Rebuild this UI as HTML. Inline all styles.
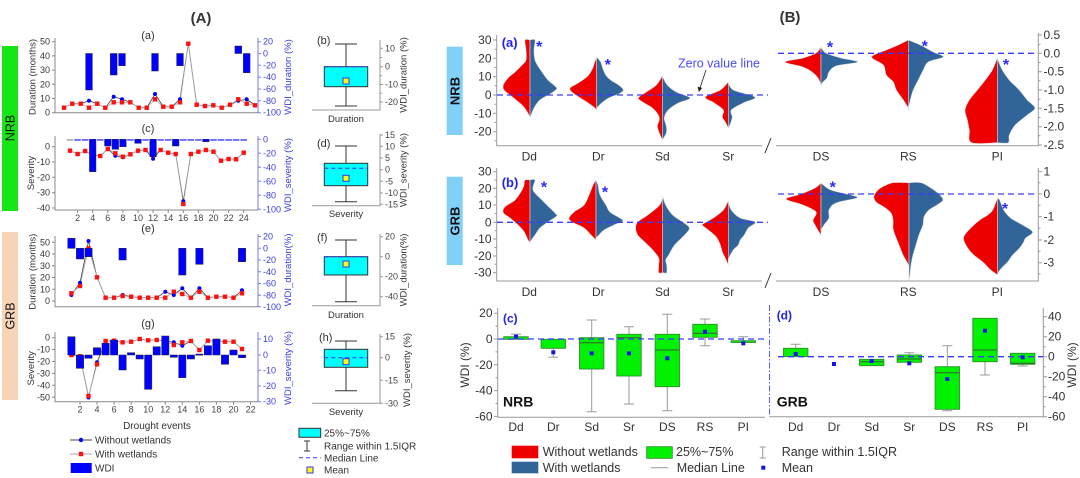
<!DOCTYPE html>
<html><head><meta charset="utf-8"><style>
html,body{margin:0;padding:0;background:#fff}
svg{display:block}
text{font-family:"Liberation Sans",sans-serif}
.lt{font-size:9px;fill:#333}
.rt{font-size:9px;fill:#3b3bdd}
.bt{font-size:9px;fill:#444}
.vt{font-size:12px;fill:#333}
.ax{stroke:#888;stroke-width:1;fill:none}
.axb{stroke:#7b7bea;stroke-width:1;fill:none}
.ax2{stroke:#999;stroke-width:1;fill:none}
.zl{stroke:#3b3bff;stroke-width:1.3;stroke-dasharray:6,4;fill:none}
.red{fill:#ee0000;stroke:#ddd;stroke-width:.6}
.blu{fill:#31659a;stroke:#ddd;stroke-width:.6}
.gb{fill:#00f200;stroke:#2f8f2f;stroke-width:.9}
.wh{stroke:#999;stroke-width:1;fill:none}
.md{stroke:#3a5a3a;stroke-width:1}
.mn{fill:#1414e6}
</style></head><body>
<svg width="1080" height="478" viewBox="0 0 1080 478" xmlns="http://www.w3.org/2000/svg">
<rect width="1080" height="478" fill="#fff"/>

<!-- ================= LEFT (A) ================= -->
<text x="201" y="23" text-anchor="middle" font-size="15" font-weight="bold" fill="#333">(A)</text>
<rect x="2" y="46" width="16" height="165" fill="#16e616"/>
<text transform="translate(14.5,128) rotate(-90)" text-anchor="middle" font-size="12.5" fill="#111">NRB</text>
<rect x="2" y="232" width="16" height="168" fill="#f8d4b6"/>
<text transform="translate(14.5,316) rotate(-90)" text-anchor="middle" font-size="12.5" fill="#111">GRB</text>

<!-- panel (a) -->
<text x="148" y="39" text-anchor="middle" font-size="11" fill="#333">(a)</text>
<path class="ax" d="M55,38V112.7H258"/>
<path class="axb" d="M258,38V112.7"/>
<g class="ax"><path d="M52,41.7H55M52,55.9H55M52,70.1H55M52,84.3H55M52,98.5H55M52,112.7H55"/></g>
<g class="axb"><path d="M258,41.7H261M258,53.5H261M258,65.3H261M258,77.2H261M258,89H261M258,100.8H261M258,112.7H261"/></g>
<text class="lt" x="50" y="44.7" text-anchor="end">50</text>
<text class="lt" x="50" y="58.9" text-anchor="end">40</text>
<text class="lt" x="50" y="73.1" text-anchor="end">30</text>
<text class="lt" x="50" y="87.3" text-anchor="end">20</text>
<text class="lt" x="50" y="101.5" text-anchor="end">10</text>
<text class="lt" x="50" y="115.7" text-anchor="end">0</text>
<text class="rt" x="263" y="44.7">20</text>
<text class="rt" x="263" y="56.5">0</text>
<text class="rt" x="263" y="68.3">-20</text>
<text class="rt" x="263" y="80.2">-40</text>
<text class="rt" x="263" y="92">-60</text>
<text class="rt" x="263" y="103.8">-80</text>
<text class="rt" x="263" y="115.7">-100</text>
<text transform="translate(35.5,77) rotate(-90)" text-anchor="middle" font-size="9.5" fill="#333">Duration (months)</text>
<text transform="translate(291,77) rotate(-90)" text-anchor="middle" font-size="9.5" fill="#3b3bdd">WDI_duration (%)</text>
<polyline fill="none" stroke="#444" stroke-width=".8" points="64,107.7 72.3,103.7 80.7,103.7 89,100.7 97.3,103.7 105.3,107.7 113.7,96.7 122,99.3 130.3,102.3 138.7,107.7 146.7,107.7 155,94 163.3,106.7 171.7,106.7 180,99.3 188.3,43.7 196.7,104.7 205,106 213.3,105.3 221.7,107.7 230,104.7 238.3,100.7 246.7,99.3 255,105.3"/>
<polyline fill="none" stroke="#aaa" stroke-width=".8" points="64,107.7 72.3,103.7 80.7,103.7 89,107.7 97.3,103.7 105.3,107.7 113.7,102.3 122,102.3 130.3,102.3 138.7,107.7 146.7,107.7 155,99.3 163.3,106.7 171.7,106.7 180,102.3 188.3,43.7 196.7,104.7 205,106 213.3,105.3 221.7,107.7 230,104.7 238.3,99.3 246.7,103.7 255,105.3"/>
<g fill="#0000ff"><circle cx="89" cy="100.7" r="2"/><circle cx="113.7" cy="96.7" r="2"/><circle cx="122" cy="99.3" r="2"/><circle cx="155" cy="94" r="2"/><circle cx="180" cy="99.3" r="2"/><circle cx="238.3" cy="100.7" r="2"/><circle cx="246.7" cy="99.3" r="2"/></g>
<g fill="#ff1010"><rect x="61.8" y="105.5" width="4.4" height="4.4"/><rect x="70.1" y="101.5" width="4.4" height="4.4"/><rect x="78.5" y="101.5" width="4.4" height="4.4"/><rect x="86.8" y="105.5" width="4.4" height="4.4"/><rect x="95.1" y="101.5" width="4.4" height="4.4"/><rect x="103.1" y="105.5" width="4.4" height="4.4"/><rect x="111.5" y="100.1" width="4.4" height="4.4"/><rect x="119.8" y="100.1" width="4.4" height="4.4"/><rect x="128.1" y="100.1" width="4.4" height="4.4"/><rect x="136.5" y="105.5" width="4.4" height="4.4"/><rect x="144.5" y="105.5" width="4.4" height="4.4"/><rect x="152.8" y="97.1" width="4.4" height="4.4"/><rect x="161.1" y="104.5" width="4.4" height="4.4"/><rect x="169.5" y="104.5" width="4.4" height="4.4"/><rect x="177.8" y="100.1" width="4.4" height="4.4"/><rect x="186.1" y="41.5" width="4.4" height="4.4"/><rect x="194.5" y="102.5" width="4.4" height="4.4"/><rect x="202.8" y="103.8" width="4.4" height="4.4"/><rect x="211.1" y="103.1" width="4.4" height="4.4"/><rect x="219.5" y="105.5" width="4.4" height="4.4"/><rect x="227.8" y="102.5" width="4.4" height="4.4"/><rect x="236.1" y="97.1" width="4.4" height="4.4"/><rect x="244.5" y="101.5" width="4.4" height="4.4"/><rect x="252.8" y="103.1" width="4.4" height="4.4"/></g>
<g fill="#0000ff" stroke="#223" stroke-width=".5"><rect x="85.65" y="53.5" width="6.7" height="36.5"/><rect x="110.35" y="53.5" width="6.7" height="21.5"/><rect x="118.65" y="53.5" width="6.7" height="12.2"/><rect x="151.65" y="53.5" width="6.7" height="17.5"/><rect x="176.65" y="53.5" width="6.7" height="12.2"/><rect x="234.95" y="46" width="6.7" height="7.5"/><rect x="243.35" y="53.5" width="6.7" height="19.2"/></g>

<!-- panel (c) -->
<text x="148" y="132" text-anchor="middle" font-size="11" fill="#333">(c)</text>
<path class="ax" d="M55,136V210H258"/>
<path class="axb" d="M258,136V210"/>
<g class="ax"><path d="M52,146.7H55M52,162H55M52,177.3H55M52,192.7H55M52,208H55"/></g>
<g class="axb"><path d="M258,139.3H261M258,153.3H261M258,167.3H261M258,181.3H261M258,195.3H261M258,209.3H261"/></g>
<text class="lt" x="50" y="149.7" text-anchor="end">0</text>
<text class="lt" x="50" y="165" text-anchor="end">-10</text>
<text class="lt" x="50" y="180.3" text-anchor="end">-20</text>
<text class="lt" x="50" y="195.7" text-anchor="end">-30</text>
<text class="lt" x="50" y="211" text-anchor="end">-40</text>
<text class="rt" x="263" y="142.3">0</text>
<text class="rt" x="263" y="156.3">-20</text>
<text class="rt" x="263" y="170.3">-40</text>
<text class="rt" x="263" y="184.3">-60</text>
<text class="rt" x="263" y="198.3">-80</text>
<text class="rt" x="263" y="212.3">-100</text>
<g class="ax"><path d="M77.6,210V213M92.7,210V213M107.8,210V213M122.9,210V213M138,210V213M153.1,210V213M168.2,210V213M183.3,210V213M198.4,210V213M213.5,210V213M228.6,210V213M243.7,210V213"/></g>
<g class="bt" text-anchor="middle"><text x="77.6" y="221">2</text><text x="92.7" y="221">4</text><text x="107.8" y="221">6</text><text x="122.9" y="221">8</text><text x="138" y="221">10</text><text x="153.1" y="221">12</text><text x="168.2" y="221">14</text><text x="183.3" y="221">16</text><text x="198.4" y="221">18</text><text x="213.5" y="221">20</text><text x="228.6" y="221">22</text><text x="243.7" y="221">24</text></g>
<text transform="translate(34,173) rotate(-90)" text-anchor="middle" font-size="9.5" fill="#333">Severity</text>
<text transform="translate(291,175) rotate(-90)" text-anchor="middle" font-size="9.5" fill="#3b3bdd">WDI_severity (%)</text>
<polyline fill="none" stroke="#444" stroke-width=".8" points="70,150.7 77.6,154 85.1,151 92.7,155 100.2,156 107.8,149 115.3,155.7 122.9,157.3 130.4,154.3 138,150.7 145.5,150 153.1,158.7 160.6,150 168.2,152.7 175.7,154 183.3,201.3 190.8,154 198.4,151.7 205.9,150 213.5,151.7 221,160.7 228.6,159 236.1,159.3 243.7,152.7"/>
<polyline fill="none" stroke="#aaa" stroke-width=".8" points="70,150.7 77.6,154 85.1,151 92.7,155 100.2,156 107.8,149 115.3,153.3 122.9,156.7 130.4,154.3 138,150.7 145.5,150 153.1,155 160.6,150 168.2,152.7 175.7,154 183.3,204 190.8,154 198.4,151.7 205.9,150 213.5,151.7 221,160.7 228.6,159 236.1,159.3 243.7,152.7"/>
<g fill="#0000ff"><circle cx="100.2" cy="156" r="2"/><circle cx="115.3" cy="155.7" r="2"/><circle cx="122.9" cy="157.3" r="2"/><circle cx="153.1" cy="158.7" r="2"/><circle cx="183.3" cy="201.3" r="2"/></g>
<g fill="#ff1010"><rect x="67.8" y="148.5" width="4.4" height="4.4"/><rect x="75.4" y="151.8" width="4.4" height="4.4"/><rect x="82.9" y="148.8" width="4.4" height="4.4"/><rect x="90.5" y="152.8" width="4.4" height="4.4"/><rect x="98" y="153.8" width="4.4" height="4.4"/><rect x="105.6" y="146.8" width="4.4" height="4.4"/><rect x="113.1" y="151.1" width="4.4" height="4.4"/><rect x="120.7" y="154.5" width="4.4" height="4.4"/><rect x="128.2" y="152.1" width="4.4" height="4.4"/><rect x="135.8" y="148.5" width="4.4" height="4.4"/><rect x="143.3" y="147.8" width="4.4" height="4.4"/><rect x="150.9" y="152.8" width="4.4" height="4.4"/><rect x="158.4" y="147.8" width="4.4" height="4.4"/><rect x="166" y="150.5" width="4.4" height="4.4"/><rect x="173.5" y="151.8" width="4.4" height="4.4"/><rect x="181.1" y="201.8" width="4.4" height="4.4"/><rect x="188.6" y="151.8" width="4.4" height="4.4"/><rect x="196.2" y="149.5" width="4.4" height="4.4"/><rect x="203.7" y="147.8" width="4.4" height="4.4"/><rect x="211.3" y="149.5" width="4.4" height="4.4"/><rect x="218.8" y="158.5" width="4.4" height="4.4"/><rect x="226.4" y="156.8" width="4.4" height="4.4"/><rect x="233.9" y="157.1" width="4.4" height="4.4"/><rect x="241.5" y="150.5" width="4.4" height="4.4"/></g>
<g fill="#2a2aff"><rect x="66.75" y="139.3" width="6.5" height="1.3" fill="#999"/><rect x="74.35" y="139.3" width="6.5" height="1.3"/><rect x="81.85" y="139.3" width="6.5" height="1.3"/><rect x="96.95" y="139.3" width="6.5" height="1.3"/><rect x="127.15" y="139.3" width="6.5" height="1.3"/><rect x="142.25" y="139.3" width="6.5" height="1.3"/><rect x="157.35" y="139.3" width="6.5" height="1.3"/><rect x="164.95" y="139.3" width="6.5" height="1.3"/><rect x="180.05" y="139.3" width="6.5" height="1.3"/><rect x="187.55" y="139.3" width="6.5" height="1.3"/><rect x="195.15" y="139.3" width="6.5" height="1.3"/><rect x="210.25" y="139.3" width="6.5" height="1.3"/><rect x="217.75" y="139.3" width="6.5" height="1.3"/><rect x="225.35" y="139.3" width="6.5" height="1.3"/><rect x="232.85" y="139.3" width="6.5" height="1.3"/><rect x="240.45" y="139.3" width="6.5" height="1.3"/></g>
<g fill="#0000ff" stroke="#223" stroke-width=".5"><rect x="89.45" y="139.3" width="6.5" height="32.4"/><rect x="104.55" y="139.3" width="6.5" height="6.7"/><rect x="112.05" y="139.3" width="6.5" height="10"/><rect x="119.65" y="139.3" width="6.5" height="7.4"/><rect x="134.75" y="139.3" width="6.5" height="4"/><rect x="149.85" y="139.3" width="6.5" height="17.4"/><rect x="172.45" y="139.3" width="6.5" height="6.7"/><rect x="202.65" y="139.3" width="6.5" height="2.4"/></g>

<!-- panel (e) -->
<text x="148" y="232" text-anchor="middle" font-size="11" fill="#333">(e)</text>
<path class="ax" d="M55,236V306.7H258"/>
<path class="axb" d="M258,234V306.7"/>
<g class="ax"><path d="M52,242.3H55M52,254H55M52,265.8H55M52,277.5H55M52,289.3H55M52,301H55"/></g>
<g class="axb"><path d="M258,236.5H261M258,248.3H261M258,260H261M258,271.8H261M258,283.5H261M258,295.3H261M258,306.7H261"/></g>
<text class="lt" x="50" y="245.3" text-anchor="end">50</text>
<text class="lt" x="50" y="257" text-anchor="end">40</text>
<text class="lt" x="50" y="268.8" text-anchor="end">30</text>
<text class="lt" x="50" y="280.5" text-anchor="end">20</text>
<text class="lt" x="50" y="292.3" text-anchor="end">10</text>
<text class="lt" x="50" y="304" text-anchor="end">0</text>
<text class="rt" x="263" y="239.5">20</text>
<text class="rt" x="263" y="251.3">0</text>
<text class="rt" x="263" y="263">-20</text>
<text class="rt" x="263" y="274.8">-40</text>
<text class="rt" x="263" y="286.5">-60</text>
<text class="rt" x="263" y="298.3">-80</text>
<text class="rt" x="263" y="310">-100</text>
<text transform="translate(35.5,271.7) rotate(-90)" text-anchor="middle" font-size="9.5" fill="#333">Duration (months)</text>
<text transform="translate(291,270) rotate(-90)" text-anchor="middle" font-size="9.5" fill="#3b3bdd">WDI_duration(%)</text>
<polyline fill="none" stroke="#444" stroke-width=".8" points="71.4,295 80,282.7 88.5,241 97,277.3 105.6,297.7 114.1,297.7 122.6,295 131.1,296.7 139.7,297.7 148.2,297.7 156.7,297.7 165.3,291.7 173.8,295 182.3,288.3 190.9,297.7 199.4,288.3 207.9,297.7 216.4,296.7 225,296.7 233.5,297.7 242,290.3"/>
<polyline fill="none" stroke="#aaa" stroke-width=".8" points="71.4,293.3 80,286 88.5,248.3 97,277.3 105.6,297.7 114.1,297.7 122.6,296 131.1,296.7 139.7,297.7 148.2,297.7 156.7,297.7 165.3,297.7 173.8,291.7 182.3,294 190.9,297.7 199.4,291.7 207.9,297.7 216.4,296.7 225,296.7 233.5,297.7 242,293.3"/>
<g fill="#0000ff"><circle cx="71.4" cy="295" r="2"/><circle cx="80" cy="282.7" r="2"/><circle cx="88.5" cy="241" r="2"/><circle cx="122.6" cy="295" r="2"/><circle cx="165.3" cy="291.7" r="2"/><circle cx="173.8" cy="295" r="2"/><circle cx="182.3" cy="288.3" r="2"/><circle cx="199.4" cy="288.3" r="2"/><circle cx="242" cy="290.3" r="2"/></g>
<g fill="#ff1010"><rect x="69.2" y="291.1" width="4.4" height="4.4"/><rect x="77.8" y="283.8" width="4.4" height="4.4"/><rect x="86.3" y="246.1" width="4.4" height="4.4"/><rect x="94.8" y="275.1" width="4.4" height="4.4"/><rect x="103.4" y="295.5" width="4.4" height="4.4"/><rect x="111.9" y="295.5" width="4.4" height="4.4"/><rect x="120.4" y="293.8" width="4.4" height="4.4"/><rect x="128.9" y="294.5" width="4.4" height="4.4"/><rect x="137.5" y="295.5" width="4.4" height="4.4"/><rect x="146" y="295.5" width="4.4" height="4.4"/><rect x="154.5" y="295.5" width="4.4" height="4.4"/><rect x="163.1" y="295.5" width="4.4" height="4.4"/><rect x="171.6" y="289.5" width="4.4" height="4.4"/><rect x="180.1" y="291.8" width="4.4" height="4.4"/><rect x="188.7" y="295.5" width="4.4" height="4.4"/><rect x="197.2" y="289.5" width="4.4" height="4.4"/><rect x="205.7" y="295.5" width="4.4" height="4.4"/><rect x="214.2" y="294.5" width="4.4" height="4.4"/><rect x="222.8" y="294.5" width="4.4" height="4.4"/><rect x="231.3" y="295.5" width="4.4" height="4.4"/><rect x="239.8" y="291.1" width="4.4" height="4.4"/></g>
<g fill="#0000ff" stroke="#223" stroke-width=".5"><rect x="67.75" y="238.3" width="7.3" height="10"/><rect x="76.35" y="248.3" width="7.3" height="10.7"/><rect x="84.85" y="248.3" width="7.3" height="8.4"/><rect x="118.95" y="248.3" width="7.3" height="11.7"/><rect x="178.65" y="248.3" width="7.3" height="26.7"/><rect x="195.75" y="248.3" width="7.3" height="16"/><rect x="238.35" y="248.3" width="7.3" height="13.4"/></g>

<!-- panel (g) -->
<text x="148" y="327" text-anchor="middle" font-size="11" fill="#333">(g)</text>
<path class="ax" d="M55,332V401.7H258"/>
<path class="axb" d="M258,332V401.7"/>
<g class="ax"><path d="M52,337.7H55M52,349.6H55M52,361.5H55M52,373.4H55M52,385.3H55M52,397.3H55"/></g>
<g class="axb"><path d="M258,339H261M258,355H261M258,370.3H261M258,386H261M258,401.7H261"/></g>
<text class="lt" x="50" y="340.7" text-anchor="end">0</text>
<text class="lt" x="50" y="352.6" text-anchor="end">-10</text>
<text class="lt" x="50" y="364.5" text-anchor="end">-20</text>
<text class="lt" x="50" y="376.4" text-anchor="end">-30</text>
<text class="lt" x="50" y="388.3" text-anchor="end">-40</text>
<text class="lt" x="50" y="400.3" text-anchor="end">-50</text>
<text class="rt" x="263" y="342">10</text>
<text class="rt" x="263" y="358">0</text>
<text class="rt" x="263" y="373.3">-10</text>
<text class="rt" x="263" y="389">-20</text>
<text class="rt" x="263" y="404.7">-30</text>
<g class="ax"><path d="M80,401.7V404.7M97,401.7V404.7M114.1,401.7V404.7M131.1,401.7V404.7M148.2,401.7V404.7M165.3,401.7V404.7M182.3,401.7V404.7M199.4,401.7V404.7M216.4,401.7V404.7M233.5,401.7V404.7M250.6,401.7V404.7"/></g>
<g class="bt" text-anchor="middle"><text x="80" y="412.5">2</text><text x="97" y="412.5">4</text><text x="114.1" y="412.5">6</text><text x="131.1" y="412.5">8</text><text x="148.2" y="412.5">10</text><text x="165.3" y="412.5">12</text><text x="182.3" y="412.5">14</text><text x="199.4" y="412.5">16</text><text x="216.4" y="412.5">18</text><text x="233.5" y="412.5">20</text><text x="250.6" y="412.5">22</text></g>
<text transform="translate(34,368.3) rotate(-90)" text-anchor="middle" font-size="9.5" fill="#333">Severity</text>
<text transform="translate(291,368) rotate(-90)" text-anchor="middle" font-size="9.5" fill="#3b3bdd">WDI_severity (%)</text>
<polyline fill="none" stroke="#444" stroke-width=".8" points="71.4,355 80,356.3 88.5,397 97,362.3 105.6,341 114.1,340.7 122.6,342.3 131.1,341.7 139.7,339 148.2,340.3 156.7,340 165.3,341 173.8,342.3 182.3,345.7 190.9,341 199.4,350 207.9,340.7 216.4,341 225,341.7 233.5,341.7 242,349"/>
<polyline fill="none" stroke="#aaa" stroke-width=".8" points="71.4,355 80,356.3 88.5,396 97,364.3 105.6,341 114.1,340.7 122.6,342.3 131.1,341.7 139.7,339 148.2,340.3 156.7,340 165.3,341 173.8,345 182.3,342.3 190.9,341 199.4,350 207.9,340.7 216.4,341 225,341.7 233.5,341.7 242,349"/>
<g fill="#0000ff"><circle cx="88.5" cy="397.5" r="2"/><circle cx="97" cy="362.3" r="2"/><circle cx="173.8" cy="342.3" r="2"/><circle cx="182.3" cy="345.7" r="2"/></g>
<g fill="#ff1010"><rect x="69.2" y="352.8" width="4.4" height="4.4"/><rect x="77.8" y="354.1" width="4.4" height="4.4"/><rect x="86.3" y="393.8" width="4.4" height="4.4"/><rect x="94.8" y="362.1" width="4.4" height="4.4"/><rect x="103.4" y="338.8" width="4.4" height="4.4"/><rect x="111.9" y="338.5" width="4.4" height="4.4"/><rect x="120.4" y="340.1" width="4.4" height="4.4"/><rect x="128.9" y="339.5" width="4.4" height="4.4"/><rect x="137.5" y="336.8" width="4.4" height="4.4"/><rect x="146" y="338.1" width="4.4" height="4.4"/><rect x="154.5" y="337.8" width="4.4" height="4.4"/><rect x="163.1" y="338.8" width="4.4" height="4.4"/><rect x="171.6" y="342.8" width="4.4" height="4.4"/><rect x="180.1" y="340.1" width="4.4" height="4.4"/><rect x="188.7" y="338.8" width="4.4" height="4.4"/><rect x="197.2" y="347.8" width="4.4" height="4.4"/><rect x="205.7" y="338.5" width="4.4" height="4.4"/><rect x="214.2" y="338.8" width="4.4" height="4.4"/><rect x="222.8" y="339.5" width="4.4" height="4.4"/><rect x="231.3" y="339.5" width="4.4" height="4.4"/><rect x="239.8" y="346.8" width="4.4" height="4.4"/></g>
<g fill="#0000ff" stroke="#223" stroke-width=".5"><rect x="67.75" y="336.7" width="7.3" height="18.3"/><rect x="76.35" y="355" width="7.3" height="13.3"/><rect x="84.85" y="355" width="7.3" height="3.3"/><rect x="93.35" y="347.7" width="7.3" height="7.3"/><rect x="101.95" y="343.3" width="7.3" height="11.7"/><rect x="110.45" y="340" width="7.3" height="15"/><rect x="118.95" y="355" width="7.3" height="15"/><rect x="127.45" y="352.7" width="7.3" height="2.3"/><rect x="136.05" y="355" width="7.3" height="4"/><rect x="144.55" y="355" width="7.3" height="34.3"/><rect x="153.05" y="346.7" width="7.3" height="8.3"/><rect x="161.65" y="336" width="7.3" height="19"/><rect x="170.15" y="355" width="7.3" height="2.3"/><rect x="178.65" y="355" width="7.3" height="22.7"/><rect x="187.25" y="355" width="7.3" height="4"/><rect x="195.75" y="354" width="7.3" height="1.2"/><rect x="204.25" y="345.7" width="7.3" height="9.3"/><rect x="212.75" y="339" width="7.3" height="16"/><rect x="221.35" y="355" width="7.3" height="9.3"/><rect x="229.85" y="350" width="7.3" height="5"/><rect x="238.35" y="355" width="7.3" height="2.7"/></g>

<!-- left legend -->
<text x="157" y="429" text-anchor="middle" font-size="10" fill="#333">Drought events</text>
<line x1="70" y1="440" x2="92" y2="440" stroke="#444" stroke-width=".9"/>
<circle cx="81" cy="440" r="2.2" fill="#0000ff"/>
<text x="95" y="443.5" font-size="10" fill="#333">Without wetlands</text>
<line x1="70" y1="454" x2="92" y2="454" stroke="#aaa" stroke-width=".9"/>
<rect x="78.8" y="451.8" width="4.4" height="4.4" fill="#ff1010"/>
<text x="95" y="457.5" font-size="10" fill="#333">With wetlands</text>
<rect x="70.7" y="463" width="21" height="10" fill="#0000ff"/>
<text x="95" y="471.5" font-size="10" fill="#333">WDI</text>

<!-- ================= box plots (b)(d)(f)(h) ================= -->
<text x="317" y="44" font-size="11" fill="#333">(b)</text>
<path class="ax2" d="M312,110H380V40"/>
<g class="ax2"><path d="M380,48.3H383M380,66.7H383M380,84.5H383M380,102H383M380,57.5H382M380,75.6H382M380,93.2H382"/></g>
<text class="bt" x="385" y="51.3">10</text><text class="bt" x="385" y="69.7">0</text><text class="bt" x="385" y="87.5">-10</text><text class="bt" x="385" y="105">-20</text>
<text transform="translate(406.5,75) rotate(-90)" text-anchor="middle" font-size="9.5" fill="#333">WDI_duration (%)</text>
<path d="M346,44V66.7M346,86.7V106M335,44H357M335,106H357" stroke="#333" stroke-width="1" fill="none"/>
<rect x="324.3" y="66.7" width="43.4" height="20" fill="#00ffff" stroke="#333" stroke-width="1"/>
<line x1="324.3" y1="66.7" x2="367.7" y2="66.7" stroke="#33f" stroke-dasharray="4,3"/>
<rect x="343" y="78" width="6" height="6" fill="#ffff00" stroke="#3333ff" stroke-width="1"/>
<text x="346" y="122" text-anchor="middle" font-size="9.5" fill="#333">Duration</text>

<text x="317" y="147" font-size="11" fill="#333">(d)</text>
<path class="ax2" d="M312,205.7H380V134"/>
<g class="ax2"><path d="M380,135H383M380,146.3H383M380,158H383M380,169.7H383M380,181.3H383M380,193H383M380,204.3H383"/></g>
<text class="bt" x="385" y="138">15</text><text class="bt" x="385" y="149.3">10</text><text class="bt" x="385" y="161">5</text><text class="bt" x="385" y="172.7">0</text><text class="bt" x="385" y="184.3">-5</text><text class="bt" x="385" y="196">-10</text><text class="bt" x="385" y="207.3">-15</text>
<text transform="translate(406.5,170) rotate(-90)" text-anchor="middle" font-size="9.5" fill="#333">WDI_severity (%)</text>
<path d="M346,146V163.3M346,185.7V201.7M335,146H357M335,201.7H357" stroke="#333" stroke-width="1" fill="none"/>
<rect x="324.3" y="163.3" width="43.4" height="22.4" fill="#00ffff" stroke="#333" stroke-width="1"/>
<line x1="324.3" y1="168.3" x2="367.7" y2="168.3" stroke="#33f" stroke-dasharray="4,3"/>
<rect x="343" y="175.3" width="6" height="6" fill="#ffff00" stroke="#3333ff" stroke-width="1"/>
<text x="346" y="217" text-anchor="middle" font-size="9.5" fill="#333">Severity</text>

<text x="317" y="241" font-size="11" fill="#333">(f)</text>
<path class="ax2" d="M312,305.7H380V234"/>
<g class="ax2"><path d="M380,236.7H383M380,256.7H383M380,276.7H383M380,296.7H383"/></g>
<text class="bt" x="385" y="239.7">20</text><text class="bt" x="385" y="259.7">0</text><text class="bt" x="385" y="279.7">-20</text><text class="bt" x="385" y="299.7">-40</text>
<text transform="translate(406.5,270) rotate(-90)" text-anchor="middle" font-size="9.5" fill="#333">WDI_duration(%)</text>
<path d="M346,240V256.7M346,275V301.7M335,240H357M335,301.7H357" stroke="#333" stroke-width="1" fill="none"/>
<rect x="324.3" y="256.7" width="43.4" height="18.3" fill="#00ffff" stroke="#333" stroke-width="1"/>
<line x1="324.3" y1="256.7" x2="367.7" y2="256.7" stroke="#33f" stroke-dasharray="4,3"/>
<rect x="343" y="261" width="6" height="6" fill="#ffff00" stroke="#3333ff" stroke-width="1"/>
<text x="346" y="318" text-anchor="middle" font-size="9.5" fill="#333">Duration</text>

<text x="319" y="341" font-size="11" fill="#333">(h)</text>
<path class="ax2" d="M312,403.3H380V334"/>
<g class="ax2"><path d="M380,336.7H383M380,357.7H383M380,380.3H383M380,403.3H383"/></g>
<text class="bt" x="385" y="339.7">15</text><text class="bt" x="385" y="360.7">0</text><text class="bt" x="385" y="383.3">-15</text><text class="bt" x="385" y="406.3">-30</text>
<text transform="translate(410,370) rotate(-90)" text-anchor="middle" font-size="9.5" fill="#333">WDI_severity (%)</text>
<path d="M346,341V349.3M346,367.3V390.7M335,341H357M335,390.7H357" stroke="#333" stroke-width="1" fill="none"/>
<rect x="324.3" y="349.3" width="43.4" height="18" fill="#00ffff" stroke="#333" stroke-width="1"/>
<line x1="324.3" y1="357.7" x2="367.7" y2="357.7" stroke="#33f" stroke-dasharray="4,3"/>
<rect x="343" y="358.7" width="6" height="6" fill="#ffff00" stroke="#3333ff" stroke-width="1"/>
<text x="346" y="415" text-anchor="middle" font-size="9.5" fill="#333">Severity</text>

<rect x="299" y="428.3" width="21.7" height="9" fill="#00ffff" stroke="#333" stroke-width="1"/>
<text x="324" y="436.5" font-size="10" fill="#333">25%~75%</text>
<path d="M307,441V451M304,441H310M304,451H310" stroke="#333" stroke-width="1" fill="none"/>
<text x="324" y="449.5" font-size="10" fill="#333">Range within 1.5IQR</text>
<line x1="299" y1="457.7" x2="320.7" y2="457.7" stroke="#33f" stroke-dasharray="4,3"/>
<text x="324" y="461.5" font-size="10" fill="#333">Median Line</text>
<rect x="307" y="467" width="6" height="6" fill="#ffff00" stroke="#3333ff" stroke-width="1"/>
<text x="324" y="473.5" font-size="10" fill="#333">Mean</text>

<!-- ================= RIGHT (B) ================= -->
<text x="790" y="22" text-anchor="middle" font-size="15" font-weight="bold" fill="#333">(B)</text>
<rect x="446.7" y="46.7" width="16" height="88.3" fill="#80d0f8"/>
<text transform="translate(459.5,91) rotate(-90)" text-anchor="middle" font-size="13" font-weight="bold" fill="#111">NRB</text>
<rect x="446.7" y="176.7" width="16" height="88.3" fill="#80d0f8"/>
<text transform="translate(459.5,221) rotate(-90)" text-anchor="middle" font-size="13" font-weight="bold" fill="#111">GRB</text>

<!-- violin (a) axes -->
<path class="ax2" d="M496.7,35V145.7H762"/>
<path class="ax2" d="M776,145.7H1038.3V33"/>
<line x1="765" y1="153" x2="771" y2="138" stroke="#333" stroke-width="1"/>
<g class="ax2"><path d="M493,40H496.7M493,58.3H496.7M493,76.7H496.7M493,95H496.7M493,113.3H496.7M493,131.7H496.7M494.5,49.2H496.7M494.5,67.5H496.7M494.5,85.8H496.7M494.5,104.2H496.7M494.5,122.5H496.7M494.5,140.8H496.7"/></g>
<g class="vt" text-anchor="end"><text x="491.5" y="44">30</text><text x="491.5" y="62.3">20</text><text x="491.5" y="80.7">10</text><text x="491.5" y="99">0</text><text x="491.5" y="117.3">-10</text><text x="491.5" y="135.7">-20</text></g>
<g class="ax2"><path d="M1038.3,35H1042M1038.3,53.3H1042M1038.3,71.7H1042M1038.3,90H1042M1038.3,108.3H1042M1038.3,126.7H1042M1038.3,145H1042M1038.3,44.2H1040.5M1038.3,62.5H1040.5M1038.3,80.8H1040.5M1038.3,99.2H1040.5M1038.3,117.5H1040.5M1038.3,135.8H1040.5"/></g>
<g class="vt"><text x="1043.5" y="39">0.5</text><text x="1043.5" y="57.3">0.0</text><text x="1043.5" y="75.7">-0.5</text><text x="1043.5" y="94">-1.0</text><text x="1043.5" y="112.3">-1.5</text><text x="1043.5" y="130.7">-2.0</text><text x="1043.5" y="149">-2.5</text></g>
<g class="vt" text-anchor="middle"><text x="529.3" y="160.5">Dd</text><text x="598.3" y="160.5">Dr</text><text x="662.3" y="160.5">Sd</text><text x="728.3" y="160.5">Sr</text><text x="821" y="160.5">DS</text><text x="908.3" y="160.5">RS</text><text x="997.3" y="160.5">PI</text></g>

<!-- NRB violins -->
<path class="red" d="M530,40 L525,40 L526,50 L526,60 L522,65 L515,72 L508,78 L503.3,85 L504,90 L510,95 L516,100 L522,105 L526,110 L530,117 Z"/>
<path class="blu" d="M530,40 L535,40 L534,50 L535,60 L538,66 L542,72 L548,80 L555,86 L556.7,89 L550,94 L540,100 L534,108 L530,118 Z"/>
<path class="red" d="M596.7,57 L594.7,62 L592.7,68 L588.7,75 L582.7,80 L574.7,85 L570,88 L571.7,92 L578.7,97 L586.7,102 L593.7,107 L596.7,110 Z"/>
<path class="blu" d="M596.7,57 L600.7,62 L602.7,68 L605.7,75 L610.7,80 L618.7,85 L623.4,90 L618.7,94 L608.7,98 L601.7,103 L596.7,108 Z"/>
<path class="red" d="M662.3,76 L656.3,85 L646.3,92 L638.3,98 L644.3,103 L652.3,108 L658.3,115 L659.3,120 L657.3,126 L659.3,133 L662.3,140 Z"/>
<path class="blu" d="M662.3,76 L667.3,85 L676.3,92 L690,98 L678.3,103 L668.3,110 L664.3,118 L666.3,126 L666.3,133 L662.3,140 Z"/>
<path class="red" d="M728.3,82 L720.3,90 L705.3,97 L714.3,103 L723.3,110 L722.3,117 L725.3,122 L728.3,128 Z"/>
<path class="blu" d="M728.3,82 L733.3,90 L755,97 L743.3,103 L731.3,110 L732.3,117 L730.3,124 L728.3,128 Z"/>
<path class="red" d="M821,47 L816,53 L803,58 L785,62 L803,67 L812,72 L818,78 L821,85 Z"/>
<path class="blu" d="M821,47 L826,53 L841,58 L857.7,62 L836,66 L829,72 L827,78 L823,82 L821,85 Z"/>
<path class="red" d="M908.3,40 L898.3,45 L886.3,50 L871.6,57 L883.3,65 L886.3,75 L893.3,82 L896.3,90 L903.3,100 L908.3,108 Z"/>
<path class="blu" d="M908.3,40 L920.3,45 L933.3,52 L943.3,57 L928.3,62 L923.3,70 L918.3,80 L913.3,90 L910.3,100 L908.3,110 Z"/>
<path class="red" d="M997.3,58 L992.3,70 L985.3,80 L977.3,90 L969.3,100 L965,110 L967.3,120 L969.3,130 L971.6,142.7 L997.3,142.7 Z"/>
<path class="blu" d="M997.3,58 L1002.3,70 L1009.3,80 L1019.3,90 L1027.3,100 L1035,108 L1027.3,115 L1015.3,125 L1009.3,135 L1008.3,142.7 L997.3,142.7 Z"/>
<line class="zl" x1="497" y1="95" x2="768" y2="95"/>
<line class="zl" x1="778" y1="53.3" x2="1038" y2="53.3"/>
<text x="501.7" y="47" font-size="13" font-weight="bold" fill="#2222ee">(a)</text>
<g font-size="16" font-weight="bold" fill="#2a2aff" text-anchor="middle"><text x="539.3" y="52">*</text><text x="607.7" y="70">*</text><text x="830" y="52.5">*</text><text x="924.7" y="51.5">*</text><text x="1006" y="70">*</text></g>
<text x="678" y="67.5" font-size="12.5" fill="#4a4aff">Zero value line</text>
<line x1="706" y1="70" x2="700" y2="88" stroke="#222" stroke-width=".8"/>
<path d="M698.8,92 L697.6,86.6 L702.2,88 Z" fill="#222"/>

<!-- violin (b) axes -->
<path class="ax2" d="M496.7,168V281H762"/>
<path class="ax2" d="M776,281H1038.3V168"/>
<line x1="765" y1="288" x2="771" y2="273" stroke="#333" stroke-width="1"/>
<g class="ax2"><path d="M493,171.7H496.7M493,188.3H496.7M493,205H496.7M493,222.3H496.7M493,239H496.7M493,256H496.7M493,272.7H496.7M494.5,180H496.7M494.5,196.7H496.7M494.5,213.7H496.7M494.5,230.7H496.7M494.5,247.5H496.7M494.5,264.3H496.7"/></g>
<g class="vt" text-anchor="end"><text x="491.5" y="175.7">30</text><text x="491.5" y="192.3">20</text><text x="491.5" y="209">10</text><text x="491.5" y="226.3">0</text><text x="491.5" y="243">-10</text><text x="491.5" y="260">-20</text><text x="491.5" y="276.7">-30</text></g>
<g class="ax2"><path d="M1038.3,171.7H1042M1038.3,194H1042M1038.3,216.7H1042M1038.3,240H1042M1038.3,262.7H1042M1038.3,182.8H1040.5M1038.3,205.3H1040.5M1038.3,228.3H1040.5M1038.3,251.3H1040.5M1038.3,274H1040.5"/></g>
<g class="vt"><text x="1043.5" y="175.7">1</text><text x="1043.5" y="198">0</text><text x="1043.5" y="220.7">-1</text><text x="1043.5" y="244">-2</text><text x="1043.5" y="266.7">-3</text></g>
<g class="vt" text-anchor="middle"><text x="529.3" y="296">Dd</text><text x="598.3" y="296">Dr</text><text x="662.3" y="296">Sd</text><text x="728.3" y="296">Sr</text><text x="821" y="296">DS</text><text x="908.3" y="296">RS</text><text x="997.3" y="296">PI</text></g>

<!-- GRB violins -->
<path class="red" d="M530,180 L525,180 L524,185 L522,190 L515,200 L505,206.7 L503.3,212.7 L510,218 L518,225 L524,231.7 L528,240 L530,242.7 Z"/>
<path class="blu" d="M530,180 L535,180 L533,190 L542,200 L548,206 L555,213 L556.7,216 L548,222 L540,228 L535,235 L530,242 Z"/>
<path class="red" d="M596,180 L593,185 L589,195 L584,205 L574,212 L569,218 L572,222 L584,228 L591,235 L596,240 Z"/>
<path class="blu" d="M596,180 L598,185 L600,195 L606,205 L610,212 L620,218 L622.7,221 L614,225 L604,230 L599,235 L596,238 Z"/>
<path class="red" d="M662.7,196 L659.7,205 L647.7,215 L637.7,222 L635.7,228 L637.7,235 L644.7,242 L652.7,250 L658.7,258 L658.7,265 L658.7,272.7 L662.7,272.7 Z"/>
<path class="blu" d="M662.7,196 L665.7,205 L672.7,215 L682.7,222 L689.4,228 L684.7,235 L674.7,245 L668.7,255 L665.7,260 L666.7,265 L666.7,272.7 L662.7,272.7 Z"/>
<path class="red" d="M728.3,200.7 L723.3,210 L713.3,218 L706.3,222 L702.3,225 L708.3,230 L716.3,237 L720.3,245 L722.3,252 L725.3,258 L728.3,265 Z"/>
<path class="blu" d="M728.3,200.7 L731.3,210 L740.3,218 L755.3,222 L748.3,228 L744.3,235 L740.3,240 L738.3,245 L733.3,250 L730.3,255 L728.3,260 Z"/>
<path class="red" d="M821,183 L815,188 L801,194 L786,199 L803,205 L816,212 L813,220 L815,225 L819,232 L821,235 Z"/>
<path class="blu" d="M821,183 L831,190 L851,195 L856.7,198 L836,203 L829,210 L829,218 L824,225 L821,230 Z"/>
<path class="red" d="M909,182.7 L893,182.7 L884,186 L878,190 L874,196 L876,202 L884,207 L891,213 L893,220 L893,228 L895,235 L899,245 L903,255 L907,262 L909,267 Z"/>
<path class="blu" d="M909,182.7 L921,182.7 L931,188 L939,194 L943,200 L937,205 L929,210 L924,217 L923,225 L919,235 L916,245 L913,255 L911,265 L910,275 L909,280 Z"/>
<path class="red" d="M997.7,198.3 L996.7,200 L992.7,210 L987.7,215 L979.7,220 L970.7,228 L964.7,235 L963.7,240 L967.7,248 L973.7,255 L982.7,262 L990.7,270 L997.7,275 Z"/>
<path class="blu" d="M997.7,198.3 L999.7,200 L1003.7,210 L1010.7,218 L1022.7,225 L1032.7,232 L1025.7,238 L1023.7,242 L1019.7,248 L1012.7,255 L1007.7,262 L1001.7,268 L997.7,273 Z"/>
<line class="zl" x1="497" y1="222.3" x2="768" y2="222.3"/>
<line class="zl" x1="778" y1="194" x2="1038" y2="194"/>
<text x="501.7" y="187" font-size="13" font-weight="bold" fill="#2222ee">(b)</text>
<g font-size="16" font-weight="bold" fill="#2a2aff" text-anchor="middle"><text x="544" y="192.5">*</text><text x="605" y="197.5">*</text><text x="832.7" y="192.5">*</text><text x="1005" y="214">*</text></g>

<!-- bottom (c) -->
<path class="ax2" d="M497.7,308V417.3H765"/>
<g class="ax2"><path d="M494,313.2H497.7M494,339H497.7M494,364.8H497.7M494,390.6H497.7M494,416.4H497.7M495.5,326.1H497.7M495.5,351.9H497.7M495.5,377.7H497.7M495.5,403.5H497.7"/></g>
<g class="vt" text-anchor="end"><text x="492.5" y="317.2">20</text><text x="492.5" y="343">0</text><text x="492.5" y="368.8">-20</text><text x="492.5" y="394.6">-40</text><text x="492.5" y="420.4">-60</text></g>
<text transform="translate(469,365) rotate(-90)" text-anchor="middle" font-size="12" fill="#333">WDI (%)</text>
<g class="vt" text-anchor="middle"><text x="516" y="431">Dd</text><text x="553.3" y="431">Dr</text><text x="591.7" y="431">Sd</text><text x="629" y="431">Sr</text><text x="667.3" y="431">DS</text><text x="705" y="431">RS</text><text x="743.3" y="431">PI</text></g>
<line x1="769.5" y1="305" x2="769.5" y2="417" stroke="#5a5aff" stroke-width="1" stroke-dasharray="6,2,1.5,2"/>
<path class="wh" d="M516,334.3V336.7M511,334.3H521M553.3,348.3V357.3M548.3,357.3H558.3M591.7,320V337.7M591.7,369V411.7M586.7,320H596.7M586.7,411.7H596.7M629,326.7V334.3M629,376V404M624,326.7H634M624,404H634M667.3,314.3V334.3M667.3,386.7V410.7M662.3,314.3H672.3M662.3,410.7H672.3M705,319V324.3M705,337.3V345.7M700,319H710M700,345.7H710M743.3,336.7V340.7M738.3,336.7H748.3M738.3,342.3H748.3"/>
<rect class="gb" x="503.8" y="336.7" width="24.4" height="2.6"/>
<rect class="gb" x="541.1" y="339.3" width="24.4" height="9"/>
<rect class="gb" x="579.5" y="337.7" width="24.4" height="31.3"/>
<rect class="gb" x="616.8" y="334.3" width="24.4" height="41.7"/>
<rect class="gb" x="655.1" y="334.3" width="24.4" height="52.4"/>
<rect class="gb" x="692.8" y="324.3" width="24.4" height="13"/>
<rect class="gb" x="731.1" y="340.7" width="24.4" height="1.8" fill="#1a9a1a"/>
<path class="md" d="M579.5,342.7H603.9M616.8,337.7H641.2M655.1,350H679.5M692.8,333.3H717.2"/>
<line class="zl" x1="498" y1="339" x2="768" y2="339"/>
<g class="mn"><rect x="514" y="334.7" width="4" height="4"/><rect x="551.3" y="350.3" width="4" height="4"/><rect x="589.7" y="351.3" width="4" height="4"/><rect x="627" y="351.3" width="4" height="4"/><rect x="665.3" y="356.3" width="4" height="4"/><rect x="703" y="329.7" width="4" height="4"/><rect x="741.3" y="341.3" width="4" height="4"/></g>
<text x="503" y="322.5" font-size="12" font-weight="bold" fill="#2222ee">(c)</text>
<text x="503" y="406.5" font-size="14" font-weight="bold" fill="#111">NRB</text>

<!-- bottom (d) -->
<path class="ax2" d="M770,416.7H1043.3V308"/>
<g class="ax2"><path d="M1043.3,316.7H1047M1043.3,336.7H1047M1043.3,356.7H1047M1043.3,376.7H1047M1043.3,396.7H1047M1043.3,416.7H1047M1043.3,326.7H1045.5M1043.3,346.7H1045.5M1043.3,366.7H1045.5M1043.3,386.7H1045.5M1043.3,406.7H1045.5"/></g>
<g class="vt"><text x="1048" y="320.7">40</text><text x="1048" y="340.7">20</text><text x="1048" y="360.7">0</text><text x="1048" y="380.7">-20</text><text x="1048" y="400.7">-40</text><text x="1048" y="420.7">-60</text></g>
<text transform="translate(1076,365) rotate(-90)" text-anchor="middle" font-size="12" fill="#333">WDI (%)</text>
<g class="vt" text-anchor="middle"><text x="795.7" y="431">Dd</text><text x="834" y="431">Dr</text><text x="871.7" y="431">Sd</text><text x="909.3" y="431">Sr</text><text x="947.3" y="431">DS</text><text x="985" y="431">RS</text><text x="1022.7" y="431">PI</text></g>
<path class="wh" d="M795.7,344.3V348.3M790.7,344.3H800.7M909.3,352.7V355M904.3,352.7H914.3M947.3,345.7V366.7M947.3,409.3V410.7M942.3,345.7H952.3M942.3,410.7H952.3M985,361.7V375M980,375H990M1022.7,364.3V366M1017.7,366H1027.7"/>
<rect class="gb" x="783.5" y="348.3" width="24.4" height="8.4"/>
<rect class="gb" x="859.5" y="359.3" width="24.4" height="6.4"/>
<rect class="gb" x="897.1" y="355" width="24.4" height="7.3"/>
<rect class="gb" x="935.1" y="366.7" width="24.4" height="42.6"/>
<rect class="gb" x="972.8" y="318.3" width="24.4" height="43.4"/>
<rect class="gb" x="1010.5" y="353.3" width="24.4" height="11"/>
<path class="md" d="M859.5,361.7H883.9M897.1,359H921.5M935.1,372.7H959.5M972.8,350H997.2M1010.5,363.3H1034.9"/>
<line class="zl" x1="778" y1="356.7" x2="1043" y2="356.7"/>
<g class="mn"><rect x="793.7" y="352" width="4" height="4"/><rect x="832" y="362" width="4" height="4"/><rect x="869.7" y="359" width="4" height="4"/><rect x="907.3" y="361.3" width="4" height="4"/><rect x="945.3" y="377" width="4" height="4"/><rect x="983" y="328.7" width="4" height="4"/><rect x="1020.7" y="355.3" width="4" height="4"/></g>
<text x="776.7" y="319.5" font-size="12" font-weight="bold" fill="#2222ee">(d)</text>
<text x="776.7" y="406.5" font-size="14" font-weight="bold" fill="#111">GRB</text>

<!-- right legend -->
<rect x="511.7" y="445.7" width="26.6" height="12.6" fill="#ee0000"/>
<text x="542.7" y="456" font-size="12.5" fill="#333">Without wetlands</text>
<rect x="511.7" y="461.7" width="26.6" height="11.6" fill="#31659a"/>
<text x="542.7" y="472" font-size="12.5" fill="#333">With wetlands</text>
<rect class="gb" x="646.7" y="446.7" width="25.6" height="11.6"/>
<text x="676" y="456" font-size="12.5" fill="#333">25%~75%</text>
<line x1="650.7" y1="467.7" x2="668.3" y2="467.7" stroke="#999" stroke-width="1"/>
<text x="676.7" y="472" font-size="12.5" fill="#333">Median Line</text>
<path d="M762.7,447V458M759.7,447H765.7M759.7,458H765.7" stroke="#999" stroke-width="1" fill="none"/>
<text x="781.7" y="456" font-size="12.5" fill="#333">Range within 1.5IQR</text>
<rect x="761.3" y="465.7" width="4" height="4" fill="#1414e6"/>
<text x="781.7" y="472" font-size="12.5" fill="#333">Mean</text>
</svg>
<script>
(function(){
var ps=document.querySelectorAll('path.red,path.blu');
for(var k=0;k<ps.length;k++){
 var p=ps[k];var d=p.getAttribute('d');
 var nums=d.replace(/[MLZ]/g,' ').trim().split(/[\s,]+/).map(Number);
 var pts=[];for(var i=0;i+1<nums.length;i+=2)pts.push([nums[i],nums[i+1]]);
 var n=pts.length;if(n<3)continue;
 var s='M'+pts[0][0]+','+pts[0][1];
 for(var i=0;i<n-1;i++){
  var p0=pts[i>0?i-1:0],p1=pts[i],p2=pts[i+1],p3=pts[i+2<n?i+2:n-1];
  var c1x=p1[0]+(p2[0]-p0[0])/6,c1y=p1[1]+(p2[1]-p0[1])/6,c2x=p2[0]-(p3[0]-p1[0])/6,c2y=p2[1]-(p3[1]-p1[1])/6;
  s+=' C'+c1x.toFixed(2)+','+c1y.toFixed(2)+' '+c2x.toFixed(2)+','+c2y.toFixed(2)+' '+p2[0]+','+p2[1];
 }
 p.setAttribute('d',s+' Z');
}
})();
</script>
</body></html>
